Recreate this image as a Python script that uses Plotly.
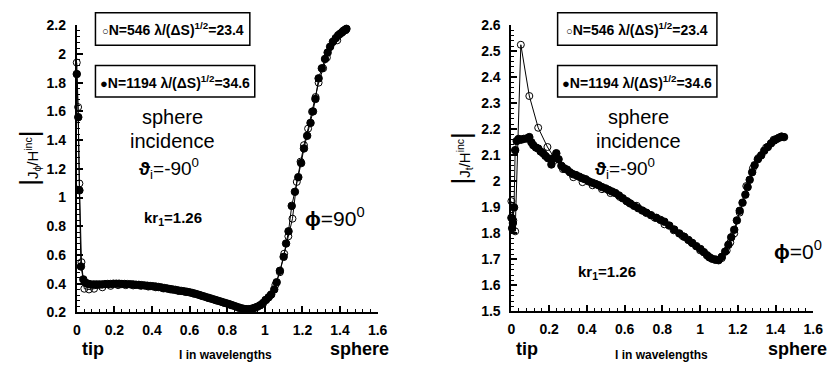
import plotly.graph_objects as go

# ---------------- data ----------------
# Left panel: |J_phi/H^inc|, phi = 90 deg
left_x_1194 = [0.0, 0.008, 0.014, 0.022, 0.035, 0.048, 0.06, 0.075, 0.09, 0.105, 0.12, 0.135,
               0.15, 0.165, 0.18, 0.195, 0.21, 0.225, 0.24, 0.255, 0.27, 0.285, 0.30, 0.315,
               0.33, 0.345, 0.36, 0.375, 0.39, 0.405, 0.42, 0.435, 0.45, 0.465, 0.48, 0.495,
               0.51, 0.525, 0.54, 0.555, 0.57, 0.585, 0.60, 0.615, 0.63, 0.645, 0.66, 0.675,
               0.69, 0.705, 0.72, 0.735, 0.75, 0.765, 0.78, 0.795, 0.81, 0.825, 0.84, 0.855,
               0.87, 0.885, 0.90, 0.915, 0.93, 0.945, 0.96, 0.975, 0.99, 1.004, 1.02, 1.034,
               1.05, 1.063, 1.08, 1.10, 1.113, 1.126, 1.143, 1.16, 1.178, 1.193, 1.208, 1.225,
               1.243, 1.256, 1.269, 1.286, 1.303, 1.32, 1.334, 1.347, 1.362, 1.377, 1.39, 1.40,
               1.41, 1.417, 1.426, 1.434]
left_y_1194 = [1.86, 1.56, 1.05, 0.52, 0.43, 0.405, 0.40, 0.395, 0.395, 0.395, 0.395, 0.395,
               0.397, 0.398, 0.398, 0.40, 0.40, 0.40, 0.398, 0.398, 0.397, 0.396, 0.395, 0.393,
               0.392, 0.39, 0.388, 0.386, 0.384, 0.382, 0.38, 0.377, 0.374, 0.37, 0.367, 0.363,
               0.36, 0.357, 0.353, 0.35, 0.347, 0.344, 0.34, 0.335, 0.33, 0.324, 0.318, 0.312,
               0.306, 0.30, 0.294, 0.288, 0.282, 0.276, 0.27, 0.264, 0.258, 0.251, 0.244, 0.237,
               0.231, 0.226, 0.223, 0.223, 0.226, 0.232, 0.24, 0.25, 0.265, 0.287, 0.305, 0.325,
               0.36, 0.41, 0.49, 0.587, 0.68, 0.765, 0.942, 1.04, 1.142, 1.24, 1.342, 1.43,
               1.52, 1.60, 1.687, 1.83, 1.90, 1.965, 2.01, 2.05, 2.085, 2.11, 2.13, 2.14,
               2.15, 2.16, 2.168, 2.175]

left_x_546 = [0.0, 0.007, 0.014, 0.025, 0.04, 0.065, 0.092, 0.136, 0.18, 0.22, 0.26, 0.30,
              0.34, 0.38, 0.42, 0.46, 0.50, 0.54, 0.58, 0.62, 0.66, 0.70, 0.74, 0.78, 0.82,
              0.86, 0.90, 0.94, 0.975, 1.008, 1.03, 1.056, 1.08, 1.103, 1.125, 1.147, 1.17,
              1.19, 1.208, 1.23, 1.251, 1.27, 1.286, 1.31, 1.33, 1.385, 1.43]
left_y_546 = [1.94, 1.63, 1.098, 0.55, 0.365, 0.36, 0.365, 0.375, 0.385, 0.39, 0.39, 0.388,
              0.385, 0.38, 0.375, 0.367, 0.36, 0.35, 0.342, 0.332, 0.318, 0.30, 0.284, 0.268,
              0.25, 0.232, 0.222, 0.228, 0.25, 0.287, 0.32, 0.391, 0.48, 0.609, 0.73, 0.853,
              1.109, 1.25, 1.365, 1.48, 1.598, 1.70, 1.80, 1.90, 1.975, 2.095, 2.165]

# Right panel: |J_t/H^inc|, phi = 0 deg
right_x_1194 = [0.0, 0.004, 0.008, 0.014, 0.02, 0.028, 0.038, 0.05, 0.064, 0.08, 0.095, 0.106,
                0.116, 0.13, 0.142, 0.155, 0.168, 0.18, 0.194, 0.212, 0.225, 0.238, 0.25, 0.265,
                0.28, 0.295, 0.31, 0.325, 0.342, 0.36, 0.377, 0.394, 0.41, 0.428, 0.446, 0.463,
                0.48, 0.499, 0.515, 0.533, 0.551, 0.57, 0.59, 0.611, 0.63, 0.65, 0.672, 0.694,
                0.716, 0.74, 0.768, 0.79, 0.811, 0.837, 0.863, 0.89, 0.916, 0.938, 0.959, 0.98,
                1.002, 1.02, 1.037, 1.05, 1.063, 1.08, 1.098, 1.115, 1.133, 1.15, 1.165, 1.181,
                1.195, 1.21, 1.225, 1.24, 1.252, 1.263, 1.276, 1.289, 1.306, 1.324, 1.34, 1.359,
                1.376, 1.393, 1.406, 1.419, 1.432, 1.445]
right_y_1194 = [1.86, 1.82, 1.84, 1.90, 2.12, 2.155, 2.163, 2.16, 2.163, 2.165, 2.17, 2.15,
                2.139, 2.13, 2.126, 2.115, 2.108, 2.098, 2.089, 2.065, 2.09, 2.108, 2.085, 2.06,
                2.05, 2.045, 2.035, 2.028, 2.024, 2.018, 2.012, 2.008, 2.0, 1.995, 1.99, 1.985,
                1.978, 1.973, 1.967, 1.961, 1.955, 1.946, 1.935, 1.924, 1.915, 1.906, 1.897, 1.888,
                1.879, 1.87, 1.86, 1.852, 1.845, 1.83, 1.815, 1.80, 1.787, 1.775, 1.763, 1.751,
                1.74, 1.728, 1.716, 1.708, 1.703, 1.699, 1.697, 1.71, 1.73, 1.756, 1.785, 1.814,
                1.85, 1.887, 1.918, 1.949, 1.978, 2.006, 2.035, 2.062, 2.085, 2.10, 2.118, 2.132,
                2.146, 2.157, 2.163, 2.168, 2.172, 2.17]

right_x_546 = [0.0, 0.01, 0.02, 0.05, 0.095, 0.142, 0.191, 0.234, 0.273, 0.328, 0.377, 0.43,
               0.48, 0.525, 0.575, 0.62, 0.664, 0.712, 0.76, 0.811, 0.86, 0.907, 0.955, 1.0,
               1.045, 1.085, 1.115, 1.141, 1.16, 1.181, 1.21, 1.245, 1.28, 1.31, 1.35, 1.39, 1.43]
right_y_546 = [1.924, 1.85, 1.808, 2.525, 2.328, 2.206, 2.132, 2.083, 2.047, 2.016, 1.997, 1.985,
               1.97, 1.955, 1.94, 1.92, 1.906, 1.881, 1.86, 1.835, 1.812, 1.79, 1.765, 1.735,
               1.71, 1.70, 1.705, 1.734, 1.765, 1.80, 1.88, 1.982, 2.05, 2.09, 2.13, 2.16, 2.17]

x_ticks = [0, 0.2, 0.4, 0.6, 0.8, 1, 1.2, 1.4, 1.6]
x_tick_labels = ["0", "0.2", "0.4", "0.6", "0.8", "1", "1.2", "1.4", "1.6"]
left_y_ticks = [0.2, 0.4, 0.6, 0.8, 1, 1.2, 1.4, 1.6, 1.8, 2, 2.2]
left_y_tick_labels = ["0.2", "0.4", "0.6", "0.8", "1", "1.2", "1.4", "1.6", "1.8", "2", "2.2"]
right_y_ticks = [1.5, 1.6, 1.7, 1.8, 1.9, 2, 2.1, 2.2, 2.3, 2.4, 2.5, 2.6]
right_y_tick_labels = ["1.5", "1.6", "1.7", "1.8", "1.9", "2", "2.1", "2.2", "2.3", "2.4",
                       "2.5", "2.6"]

legend_546 = "N=546 λ/(ΔS)<sup>1/2</sup>=23.4"
legend_1194 = "N=1194 λ/(ΔS)<sup>1/2</sup>=34.6"

# ---------------- figure ----------------
W, H = 840, 375
def px(x):
    return x / W
def py(y):
    return 1 - y / H

FONT = "Liberation Sans"

fig = go.Figure()

def add_series(xs, ys, xa, ya, filled):
    fig.add_trace(go.Scatter(
        x=xs, y=ys, xaxis=xa, yaxis=ya, mode="lines+markers",
        line=dict(color="black", width=1),
        marker=dict(symbol="circle" if filled else "circle-open", size=7.5 if filled else 7,
                    color="black", line=dict(color="black", width=1)),
        cliponaxis=False, showlegend=False, hoverinfo="skip"))

add_series(left_x_1194, left_y_1194, "x", "y", True)
add_series(left_x_546, left_y_546, "x", "y", False)
add_series(right_x_1194, right_y_1194, "x2", "y2", True)
add_series(right_x_546, right_y_546, "x2", "y2", False)

def bold(labels):
    return ["<b>%s</b>" % t for t in labels]

tickfont = dict(family=FONT, size=14, color="black")
common = dict(showgrid=False, zeroline=False, showline=True, linecolor="black", linewidth=2,
              ticks="inside", ticklen=6, tickwidth=1.5, tickcolor="black", tickfont=tickfont,
              mirror=False, tickmode="array")
minor_x = dict(dtick=0.04, ticks="inside", ticklen=3, tickcolor="black", tickwidth=1)

fig.update_layout(
    width=W, height=H, margin=dict(l=0, r=0, t=0, b=0),
    paper_bgcolor="white", plot_bgcolor="white",
    xaxis=dict(domain=[px(74), px(380)], range=[0, 1.6], tickvals=x_ticks,
               ticktext=bold(x_tick_labels), anchor="y",
               minor=minor_x, ticklabelstandoff=4, **common),
    yaxis=dict(domain=[py(318), py(18)], range=[0.2, 2.2], tickvals=left_y_ticks,
               ticktext=bold(left_y_tick_labels), anchor="x",
               minor=dict(dtick=0.04, ticks="inside", ticklen=3, tickcolor="black", tickwidth=1),
               ticklabelstandoff=6, **common),
    xaxis2=dict(domain=[px(516), px(823)], range=[0, 1.6], tickvals=x_ticks,
                ticktext=bold(x_tick_labels), anchor="y2",
                minor=minor_x, ticklabelstandoff=4, **common),
    yaxis2=dict(domain=[py(317), py(18)], range=[1.5, 2.6], tickvals=right_y_ticks,
                ticktext=bold(right_y_tick_labels), anchor="x2",
                minor=dict(dtick=0.02, ticks="inside", ticklen=3, tickcolor="black", tickwidth=1),
                ticklabelstandoff=6, **common),
)

def note(text, x, y, size, bold=False, angle=0, xanchor="center"):
    fig.add_annotation(text=("<b>%s</b>" % text) if bold else text, x=px(x), y=py(y),
                       xref="paper", yref="paper", showarrow=False, textangle=angle,
                       xanchor=xanchor, yanchor="middle",
                       font=dict(family=FONT, size=size, color="black"))

def box(x0, y0, x1, y1):
    fig.add_shape(type="rect", xref="paper", yref="paper", x0=px(x0), x1=px(x1),
                  y0=py(y1), y1=py(y0), line=dict(color="black", width=1.5))

small_open = "<span style='font-size:11px'>○</span>"
small_fill = "<span style='font-size:13px'>●</span>"

panels = [
    dict(scx=171, thx=168, tipx=91, wx=225, spx=362, bx0=93, bx1=250, bx1b=255,
         krx=172, kry=220, phx=337, phy=218, phtext="<b>ϕ</b>=90<sup>0</sup>",
         ylab="J<sub>ϕ</sub>/H<sup>inc</sup>", ylx=26),
    dict(scx=645, thx=632, tipx=532, wx=669, spx=807, bx0=563, bx1=725, bx1b=725,
         krx=613, kry=276, phx=807, phy=253, phtext="<b>ϕ</b>=0<sup>0</sup>",
         ylab="J<sub>t</sub>/H<sup>inc</sup>", ylx=465),
]

for p in panels:
    # legend boxes
    box(p["bx0"], 5, p["bx1"], 39)
    box(p["bx0"], 60, p["bx1b"], 93)
    note(small_open + legend_546, (p["bx0"] + p["bx1"]) / 2, 22, 14, bold=True)
    note(small_fill + legend_1194, (p["bx0"] + p["bx1b"]) / 2, 77, 14, bold=True)
    # sphere incidence text
    note("sphere", p["scx"], 114, 20)
    note("incidence", p["scx"], 139, 20)
    note("<b>ϑ</b><sub>i</sub>=-90<sup>0</sup>", p["thx"], 168, 19)
    # kr_1
    note("kr<sub>1</sub>=1.26", p["krx"], p["kry"], 15, bold=True)
    # phi
    note(p["phtext"], p["phx"], p["phy"], 21)
    # axis bottom texts
    note("tip", p["tipx"], 356, 18, bold=True)
    note("l in wavelengths", p["wx"], 362, 12, bold=True)
    note("sphere", p["spx"], 356, 18, bold=True)
    # y label
    note("<span style='font-size:26px'>|</span>" + p["ylab"]
         + "<span style='font-size:26px'>|</span>", p["ylx"], 157, 15, angle=-90)

fig.write_html("out.html")
